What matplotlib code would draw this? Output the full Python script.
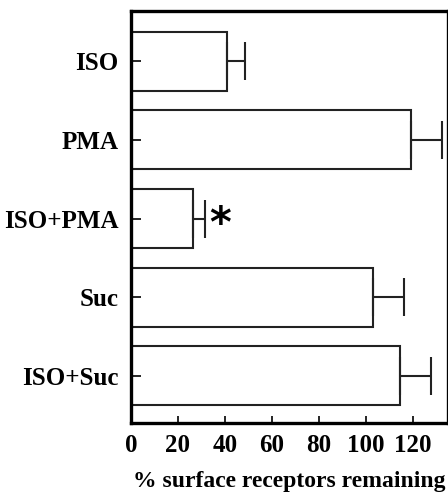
import numpy as np
import matplotlib.pyplot as plt

plt.rcParams['font.family'] = ['Liberation Serif', 'DejaVu Serif']
plt.rcParams['font.weight'] = 'bold'

labels = ["ISO", "PMA", "ISO+PMA", "Suc", "ISO+Suc"]
values = [40.7, 119.0, 26.2, 102.8, 114.5]
errors = [7.8, 13.2, 5.4, 13.2, 13.0]
star_idx = 2

fig = plt.figure(figsize=(4.48, 4.94), dpi=100)
ax = fig.add_axes([131 / 448, 71 / 494, 316.5 / 448, 412 / 494])

y = np.arange(len(labels))
ax.barh(y, values, height=0.75, color='white', edgecolor='#222222', linewidth=1.5)
ax.errorbar(values, y, xerr=[np.zeros(len(errors)), errors], fmt='none',
            ecolor='#222222', elinewidth=1.5, capsize=14, capthick=1.5)

# significance marker
ax.text(values[star_idx] + errors[star_idx] + 6.5, star_idx + 0.08, "*",
        fontsize=30, fontweight='bold', family='DejaVu Sans',
        ha='center', va='center')

ax.set_xlim(0, 134.7)
ax.set_ylim(len(labels) - 0.4, -0.64)
ax.set_yticks(y)
ax.set_yticklabels(labels, fontsize=18, fontweight='bold')
ax.set_xticks([0, 20, 40, 60, 80, 100, 120])
ax.set_xticklabels([0, 20, 40, 60, 80, 100, 120], fontsize=18, fontweight='bold')
ax.set_xlabel("% surface receptors remaining", fontsize=17, fontweight='bold', labelpad=10)

ax.tick_params(axis='y', direction='in', length=7, width=1.2, pad=9)
ax.tick_params(axis='x', direction='in', length=5, width=1.2, pad=8)
for s in ax.spines.values():
    s.set_linewidth(2.4)

fig.savefig("out.png", dpi=100)
